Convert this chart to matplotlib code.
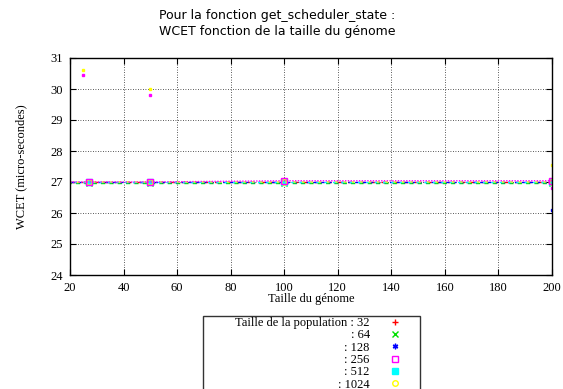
import matplotlib
matplotlib.use("Agg")
import matplotlib.pyplot as plt

# Data
genome = [20, 27, 50, 100, 200]
pop_labels = ["          Taille de la population : 32", ": 64", ": 128", ": 256", ": 512", ": 1024"]
wcet_32 = [27.0, 27.0, 27.0, 27.0, 27.0]
wcet_64 = [26.98, 26.98, 26.98, 26.98, 26.98]
wcet_128 = [27.0, 27.0, 27.0, 27.0, 27.0]
wcet_256 = [27.0, 27.0, 27.0, 27.04, 27.04]
wcet_512 = [27.0, 27.0, 27.0, 27.0, 27.0]
wcet_1024 = [26.98, 27.0, 27.0, 27.0, 27.0]
# isolated measures
out_x_128 = [200]
out_y_128 = [26.1]
out_x_256 = [25, 50, 200]
out_y_256 = [30.45, 29.8, 26.8]
out_x_1024 = [25, 50, 200]
out_y_1024 = [30.6, 30.0, 27.55]

serif = "Liberation Serif"
plt.rcParams["font.family"] = serif

fig = plt.figure(figsize=(5.63, 3.89), dpi=100)
ax = fig.add_axes([70 / 563, 1 - 275 / 389, 482 / 563, 217 / 389])

# drawing order: 256 last so its squares sit on top
series = [
    (wcet_32, "#ff0000", "+", "full", (0, (4, 4))),
    (wcet_64, "#00e000", "x", "full", (2, (3, 3))),
    (wcet_128, "#0000ff", (6, 2, 0), "full", (0, (3, 2))),
    (wcet_512, "#00ffff", "s", "full", (3, (3, 3))),
    (wcet_1024, "#ffff00", "o", "none", (1, (2, 4))),
    (wcet_256, "#ff00ff", "s", "none", (0, (1, 1))),
]
order = [0, 1, 2, 5, 3, 4]  # legend order: 32, 64, 128, 256, 512, 1024
lines = []
for (vals, col, mk, fill, ls) in series:
    ln, = ax.plot(genome, vals, color=col, linestyle=ls, linewidth=1.0,
                  marker=mk, markersize=4, markeredgewidth=1, fillstyle=fill,
                  markevery=[1, 2, 3, 4])
    lines.append(ln)

ax.plot(out_x_128, out_y_128, linestyle="none", marker="s", markersize=1.5, color="#0000ff")
ax.plot(out_x_256, out_y_256, linestyle="none", marker="s", markersize=1.5, color="#ff00ff")
ax.plot(out_x_1024, out_y_1024, linestyle="none", marker="s", markersize=1.5, color="#ffff00")

ax.set_xlim(20, 200)
ax.set_ylim(24, 31)
ax.set_xticks(range(20, 201, 20))
ax.set_yticks(range(24, 32))
ax.grid(True, color="#222222", linestyle=(0, (1, 2)), linewidth=0.6)
ax.tick_params(direction="in", top=True, right=True, labelsize=9, length=4, pad=5)
for s in ax.spines.values():
    s.set_linewidth(1.0)

ax.set_xlabel("Taille du génome", fontsize=9, labelpad=-1)
ax.set_ylabel("WCET (micro-secondes)", fontsize=9, labelpad=17)
fig.suptitle("Pour la fonction get_scheduler_state :\nWCET fonction de la taille du génome",
             fontsize=9, family="DejaVu Sans", y=0.978, x=0.492, linespacing=1.35)

leg = ax.legend([lines[i] for i in order], pop_labels,
                loc="upper left", bbox_to_anchor=(203 / 563, 1 - 316 / 389),
                bbox_transform=fig.transFigure, borderaxespad=0, markerfirst=False,
                fontsize=9, frameon=True, fancybox=False, framealpha=1,
                edgecolor="#333333", labelspacing=0.02, handlelength=3.9,
                handletextpad=0.05, borderpad=0.1)
for h in leg.legend_handles:
    h.set_linestyle("none")
leg.get_frame().set_linewidth(1.0)

fig.savefig("out.png", dpi=100)
